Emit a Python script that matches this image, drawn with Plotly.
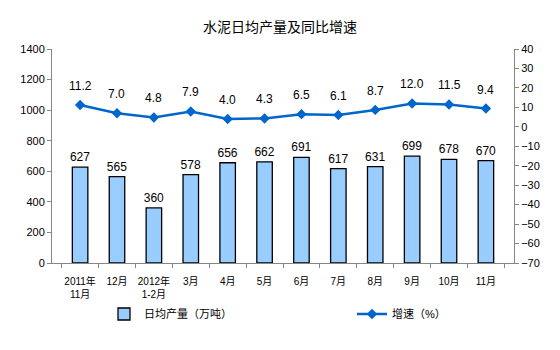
import plotly.graph_objects as go

categories = ["2011年<br>11月", "12月", "2012年<br>1-2月", "3月", "4月", "5月",
              "6月", "7月", "8月", "9月", "10月", "11月"]
output_values = [627, 565, 360, 578, 656, 662, 691, 617, 631, 699, 678, 670]
growth_values = [11.2, 7.0, 4.8, 7.9, 4.0, 4.3, 6.5, 6.1, 8.7, 12.0, 11.5, 9.4]

FONT = "Liberation Sans, Noto Sans CJK SC, sans-serif"

fig = go.Figure()
fig.add_trace(go.Bar(
    x=categories, y=output_values, name="日均产量（万吨）",
    marker=dict(color="#99CCFF", line=dict(color="black", width=1.3)),
    text=[str(v) for v in output_values], textposition="outside",
    constraintext="none",
    textfont=dict(size=12, color="black"), cliponaxis=False,
    legend="legend",
))
fig.add_trace(go.Scatter(
    x=categories, y=growth_values, name="增速（%）", yaxis="y2",
    mode="lines+markers",
    line=dict(color="#0066CC", width=2.5),
    marker=dict(symbol="diamond", size=8, color="#0066CC"),
    cliponaxis=False,
    legend="legend2",
))

for c, v in zip(categories, growth_values):
    fig.add_annotation(x=c, y=v, xref="x", yref="y2", text=f"{v:.1f}",
                       showarrow=False, yshift=19, font=dict(size=12, color="black"))

legend_common = dict(xref="container", yref="container", yanchor="middle",
                     xanchor="left", font=dict(size=11), bgcolor="rgba(0,0,0,0)")

fig.update_layout(
    width=560, height=350,
    margin=dict(l=52, r=46, t=49, b=87, autoexpand=False),
    paper_bgcolor="white", plot_bgcolor="white",
    font=dict(family=FONT, color="black"),
    title=dict(text="水泥日均产量及同比增速", x=0.5, xanchor="center",
               y=0.923, yanchor="middle", font=dict(size=14)),
    bargap=0.58,
    showlegend=True,
    legend=dict(x=104 / 560, y=1 - 314 / 350, **legend_common),
    legend2=dict(x=352 / 560, y=1 - 314 / 350, **legend_common),
    xaxis=dict(type="category", showline=True, linecolor="#868686", linewidth=1,
               ticks="outside", tickson="boundaries", ticklen=4, tickcolor="#868686",
               tickfont=dict(size=10), tickangle=0, ticklabelstandoff=9,
               showgrid=False),
    yaxis=dict(range=[0, 1400], dtick=200, showline=True, linecolor="#868686",
               ticks="outside", ticklen=4, tickcolor="#868686", showgrid=False,
               tickfont=dict(size=11), zeroline=False),
    yaxis2=dict(range=[-70, 40], dtick=10, overlaying="y", side="right",
                showline=True, linecolor="#868686", ticks="outside", ticklen=4,
                tickcolor="#868686", showgrid=False, tickfont=dict(size=11),
                zeroline=False),
)

fig.write_html("out.html")
